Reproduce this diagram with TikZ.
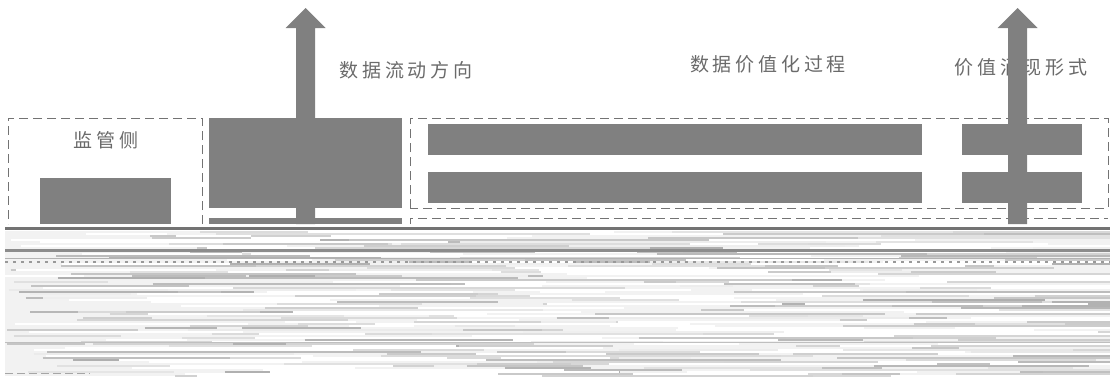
\documentclass[tikz,border=0pt]{standalone}
\usepackage{fontspec}
\newfontfamily\cjk{Noto Sans CJK SC}
\usetikzlibrary{calc}
\definecolor{blk}{HTML}{808080}
\definecolor{txt}{HTML}{6A6A6A}
\tikzset{
  blkbox/.style={fill=blk, draw=none},
  dashbox/.style={draw=black!55, dash pattern=on 9pt off 5pt, line width=1pt},
  lbl/.style={font=\cjk\fontsize{19}{19}\selectfont\addfontfeature{LetterSpace=20}, text=txt, inner sep=0},
  flowarrow/.style={fill=blk, draw=none},
}
\begin{document}
\begin{tikzpicture}[x=1pt,y=-1pt]
\useasboundingbox (0,0) rectangle (1110,380);
% dashed frames
\draw[dashbox] (202,224) -- (202,118) -- (8,118) -- (8,224);
\draw[dashbox] (410,208) -- (410,118) -- (1108,118) -- (1108,208) -- cycle;
\draw[dashbox] (410,224) -- (410,218) -- (1108,218);
% labels
\node[lbl] (sup) at (106,140) {监管侧};
\node[lbl] (flowtxt) at (406,70) {数据流动方向};
\node[lbl] (valtxt) at (768,64) {数据价值化过程};
\node[lbl] (formtxt) at (1021,67) {价值涌现形式};
% blocks
\path[blkbox] (40,178) rectangle (171,224);
\node[blkbox, minimum width=193pt, minimum height=90pt, inner sep=0, anchor=north west] (big) at (209,118) {};
\path[blkbox] (209,218) rectangle (402,224);
\node[blkbox, minimum width=494pt, minimum height=31pt, inner sep=0, anchor=north west] (bar1) at (428,124) {};
\node[blkbox, minimum width=494pt, minimum height=31pt, inner sep=0, anchor=north west] (bar2) at (428,172) {};
\node[blkbox, minimum width=120pt, minimum height=31pt, inner sep=0, anchor=north west] (sbar1) at (962,124) {};
\node[blkbox, minimum width=120pt, minimum height=31pt, inner sep=0, anchor=north west] (sbar2) at (962,172) {};
% arrows
\coordinate (a1) at (305.5,224);
\coordinate (a2) at (1017.5,224);
\foreach \c in {a1,a2}{
  \path[flowarrow] ($(\c)+(-9.5,0)$) -- ($(\c)+(-9.5,-196)$) -- ($(\c)+(-20,-196)$) -- ($(\c)+(0,-216)$)
    -- ($(\c)+(20,-196)$) -- ($(\c)+(9.5,-196)$) -- ($(\c)+(9.5,0)$) -- cycle;
}
% garbled lower part
\fill[black!5] (5,231) rectangle (1110,376);
\pgfmathsetseed{11}
\foreach \r in {0,...,72}{
  \foreach \k in {1,...,4}{
    \pgfmathsetmacro{\xa}{5+1080*rnd}
    \pgfmathsetmacro{\ln}{40+380*rnd}
    \pgfmathsetmacro{\gg}{6+26*rnd}
    \pgfmathsetmacro{\xb}{min(1110,\xa+\ln)}
    \draw[line width=1.4pt, black!\gg] (\xa,{232+2*\r}) -- (\xb,{232+2*\r});
  }
  \foreach \k in {1,2}{
    \pgfmathsetmacro{\wa}{5+1000*rnd}
    \pgfmathsetmacro{\wb}{min(1110,\wa+60+300*rnd)}
    \draw[line width=1.4pt, white] (\wa,{232+2*\r}) -- (\wb,{232+2*\r});
  }
}
\fill[black!55] (5,227) rectangle (1110,230);
\fill[black!45] (5,249) rectangle (1110,252);
\draw[black!40, line width=1.2pt, dash pattern=on 3pt off 5pt] (5,262) -- (1110,262);
\draw[black!30, line width=1pt] (5,258) -- (1110,258);
\draw[black!25, line width=1pt] (5,342) -- (1110,342);
\draw[black!35, dash pattern=on 8pt off 4pt] (5,373) -- (90,373);
\end{tikzpicture}
\end{document}
